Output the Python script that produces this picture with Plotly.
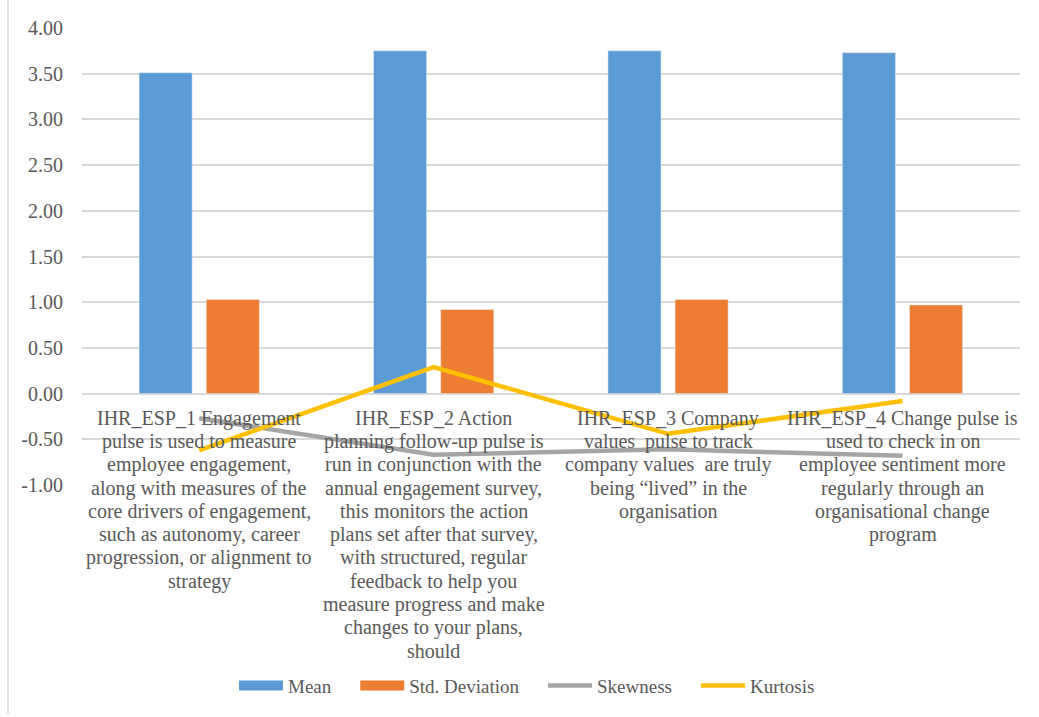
import plotly.graph_objects as go

# Survey items (category keys) and their wrapped axis labels
items = ["IHR_ESP_1", "IHR_ESP_2", "IHR_ESP_3", "IHR_ESP_4"]
item_label_lines = [
    ["IHR_ESP_1 Engagement", "pulse is used to measure", "employee engagement,",
     "along with measures of the", "core drivers of engagement,",
     "such as autonomy, career", "progression, or alignment to", "strategy"],
    ["IHR_ESP_2 Action", "planning follow-up pulse is", "run in conjunction with the",
     "annual engagement survey,", "this monitors the action",
     "plans set after that survey,", "with structured, regular",
     "feedback to help you", "measure progress and make",
     "changes to your plans,", "should"],
    ["IHR_ESP_3 Company", "values  pulse to track", "company values  are truly",
     "being \u201clived\u201d in the", "organisation"],
    ["IHR_ESP_4 Change pulse is", "used to check in on", "employee sentiment more",
     "regularly through an", "organisational change", "program"],
]

# Descriptive statistics per item
mean_vals = [3.51, 3.75, 3.75, 3.73]
std_vals = [1.03, 0.92, 1.03, 0.97]
skew_vals = [-0.27, -0.67, -0.61, -0.68]
kurt_vals = [-0.62, 0.29, -0.44, -0.08]

y_ticks = [-1.0, -0.5, 0.0, 0.5, 1.0, 1.5, 2.0, 2.5, 3.0, 3.5, 4.0]
y_tick_text = [f"{v:.2f}" for v in y_ticks]

FONT = "Liberation Serif, Times New Roman, serif"
TEXT = "#595959"
GRID = "#D9D9D9"
PAD = "\u00a0" * 4  # trailing room after each legend label

fig = go.Figure()
fig.add_trace(go.Bar(x=items, y=mean_vals, name="Mean", marker_color="#5B9BD5",
                     showlegend=False))
fig.add_trace(go.Bar(x=items, y=std_vals, name="Std. Deviation", marker_color="#ED7D31",
                     showlegend=False))
fig.add_trace(go.Scatter(x=items, y=skew_vals, name="Skewness", mode="lines",
                         line=dict(color="#A5A5A5", width=4.5), showlegend=False))
fig.add_trace(go.Scatter(x=items, y=kurt_vals, name="Kurtosis", mode="lines",
                         line=dict(color="#FFC000", width=4.5), showlegend=False))

# Legend entries drawn as wide swatches
legend_entries = [("Mean", "#5B9BD5", 10), ("Std. Deviation", "#ED7D31", 10),
                  ("Skewness", "#A5A5A5", 4.5), ("Kurtosis", "#FFC000", 4.5)]
for name, color, lw in legend_entries:
    fig.add_trace(go.Scatter(x=[None], y=[None], name=name + PAD, mode="lines",
                             line=dict(color=color, width=lw)))

# Multi-line category labels hanging from the zero line
annotations = []
first_offset = 24.5
line_step = 23.3
for key, lines in zip(items, item_label_lines):
    for j, txt in enumerate(lines):
        annotations.append(dict(
            x=key, y=0, xref="x", yref="y", text=txt, showarrow=False,
            xanchor="center", yanchor="middle",
            yshift=-(first_offset + j * line_step),
            font=dict(family=FONT, size=20, color=TEXT),
        ))

fig.update_layout(
    width=1039, height=717,
    margin=dict(l=82, r=19, t=28, b=229),
    paper_bgcolor="white", plot_bgcolor="white",
    barmode="group", bargap=0.427, bargroupgap=0.21,
    font=dict(family=FONT, size=20, color=TEXT),
    showlegend=True,
    legend=dict(orientation="h", x=(234 - 82) / 938, xanchor="left",
                y=-0.439, yanchor="middle",
                font=dict(family=FONT, size=19, color=TEXT),
                itemwidth=44, tracegroupgap=0, bgcolor="rgba(0,0,0,0)"),
    annotations=annotations,
    shapes=[dict(type="line", xref="paper", yref="paper",
                 x0=-0.0789, x1=-0.0789, y0=-0.5, y1=1.07,
                 line=dict(color=GRID, width=1.5))],
)
fig.update_xaxes(showticklabels=False, showgrid=False, zeroline=False, showline=False,
                 ticks="")
fig.update_yaxes(range=[-1, 4], tickvals=y_ticks, ticktext=y_tick_text,
                 showgrid=True, gridcolor=GRID, gridwidth=1.5,
                 zeroline=True, zerolinecolor=GRID, zerolinewidth=1.5,
                 showline=False, ticks="", ticklabelstandoff=18,
                 tickfont=dict(family=FONT, size=20, color=TEXT))

fig.write_html("out.html")
